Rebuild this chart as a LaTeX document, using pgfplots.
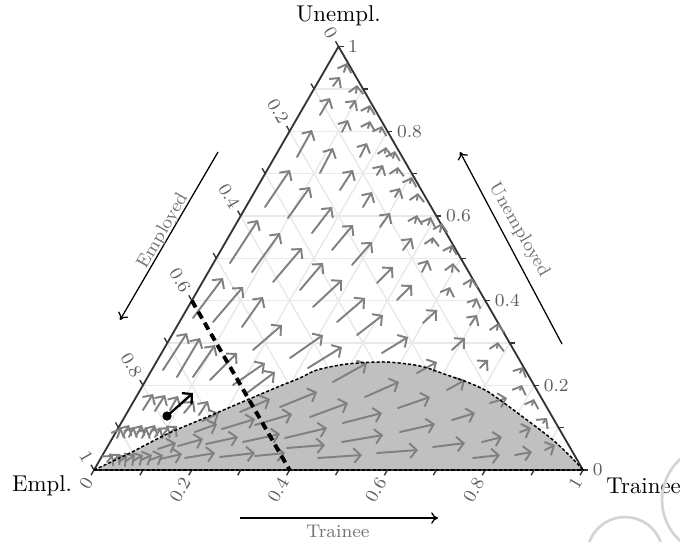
\documentclass[border=0pt]{standalone}
\usepackage{pgfplots}
\pgfplotsset{compat=1.18}
\usetikzlibrary{arrows.meta}

\definecolor{fieldgray}{RGB}{128,128,128}
\definecolor{gridgray}{RGB}{232,232,232}
\definecolor{edgegray}{RGB}{51,51,51}
\definecolor{ticktext}{RGB}{95,95,95}
\definecolor{shade}{RGB}{192,192,192}

% Vector field: tail (x,y) and displacement (u,v), in drawing units (y downwards)
\pgfplotstableread{
x y u v
344 72 3 -9
333 86 7 -9
356 93 1 -8
320 115 10 -17
350 108 6 -8
368 112 2 -7
342 132 6 -12
368 128 2 -7
380 132 2 -6
393 158 2 -7
297 157 15 -27
320 173 13 -25
340 190 13 -20
360 157 7 -14
377 175 6 -10
385 153 1 -6
397 173 1 -6
410 183 2 -6
265 207 25 -37
288 218 22 -31
363 207 9 -15
380 227 10 -14
395 197 5 -9
417 200 1 -7
415 223 2 -8
428 225 3 -8
440 232 2 -9
230 263 28 -43
252 272 28 -39
273 282 29 -34
312 233 20 -26
332 250 21 -25
352 265 20 -23
403 250 9 -12
432 243 1 -6
450 252 2 -7
377 283 16 -16
422 272 6 -12
452 272 1 -9
397 300 15 -15
447 295 3 -8
470 287 2 -9
423 323 14 -13
473 307 4 -9
497 330 1 -7
193 318 30 -40
213 322 30 -35
242 327 21 -30
300 290 23 -27
313 307 29 -27
337 322 28 -24
253 350 29 -25
357 335 26 -20
470 325 7 -10
497 348 1 -6
382 353 26 -16
452 350 13 -12
480 368 8 -8
520 373 3 -6
520 390 2 -5
532 405 2 -6
543 423 4 -5
163 370 24 -37
177 377 23 -39
193 377 22 -32
210 380 27 -27
233 385 32 -22
247 393 28 -21
290 358 33 -23
308 368 34 -21
333 382 34 -19
417 373 20 -11
447 390 18 -10
143 410 10 -16
155 411 10 -16
170 410 8 -14
184 413 10 -12
199 415 9 -14
202 421 17 -8
117 438 4 -10
123 436 6 -11
129 437 5 -10
136 436 6 -11
142 438 5 -10
149 436 6 -11
155 437 6 -9
162 436 7 -9
169 434 8 -8
365 397 34 -15
398 408 32 -11
452 420 23 -7
280 407 37 -15
310 417 38 -14
343 423 39 -10
400 432 35 -8
285 438 42 -10
342 442 41 -7
433 447 32 -4
287 448 38 -3
318 458 44 -3
377 453 41 -3
490 403 17 -5
520 432 11 -4
482 442 20 -5
473 458 27 -3
515 455 17 -3
545 450 10 -5
107 462 6 -7
113 461 7 -7
119 462 8 -6
126 461 9 -6
133 461 10 -6
141 460 11 -5
150 460 13 -5
160 459 22 -5
185 458 30 -5
220 457 35 -4
255 456 30 -3
158 449 18 -6
178 446 25 -7
206 444 32 -7
243 442 37 -8
195 432 22 -8
222 429 33 -10
255 425 37 -11
240 412 30 -13
}\fieldtable

\begin{document}
\begin{tikzpicture}
\begin{axis}[
  name=ax,
  x=0.4377pt, y=0.4377pt,
  xmin=0, xmax=680, ymin=0, ymax=541,
  y dir=reverse,
  hide axis,
  clip=false,
  scale only axis,
]
% ternary grid, every 0.1 in each component
\pgfplotsinvokeforeach{1,...,9}{
  \draw[gridgray, line width=0.6pt] ({94+24.45*#1},{470-42.35*#1}) -- ({583-24.45*#1},{470-42.35*#1});
  \draw[gridgray, line width=0.6pt] ({94+48.9*#1},470) -- ({338.5+24.45*#1},{46.5+42.35*#1});
  \draw[gridgray, line width=0.6pt] ({338.5-24.45*#1},{46.5+42.35*#1}) -- ({583-48.9*#1},470);
}

% shaded region below the boundary curve
\addplot[fill=shade, draw=none, smooth] coordinates {
  (94,470) (130,453) (167,434) (207,417) (247,400) (280,386) (300,378)
  (317,370) (347,364) (385,362) (420,366) (447,375) (467,382) (485,390)
  (500,400) (527,420) (553,440) (573,459) (583,470)
};

% triangle
\addplot[edgegray, line width=0.8pt, line join=round] coordinates {(94,470) (583,470) (338.5,46.5) (94,470)};

% ticks
\pgfplotsinvokeforeach{0,...,10}{
  \draw[edgegray, line width=0.6pt] ({583-24.45*#1},{470-42.35*#1}) -- ({588-24.45*#1},{470-42.35*#1});
  \draw[edgegray, line width=0.6pt] ({94+48.9*#1},470) -- ({91+48.9*#1},475.2);
  \draw[edgegray, line width=0.6pt] ({338.5-24.45*#1},{46.5+42.35*#1}) -- ({335.5-24.45*#1},{41.3+42.35*#1});
}

% tick labels
\begin{scope}[every node/.style={font=\footnotesize, text=ticktext, inner sep=1pt}]
  \node[anchor=west] at (590,470) {0};
  \node[anchor=west] at (541.1,385.3) {0.2};
  \node[anchor=west] at (492.2,300.6) {0.4};
  \node[anchor=west] at (443.3,215.9) {0.6};
  \node[anchor=west] at (394.4,131.2) {0.8};
  \node[anchor=west] at (345.5,46.5) {1};
  \node[anchor=east, rotate=60] at (90,477) {0};
  \node[anchor=east, rotate=60] at (187.8,477) {0.2};
  \node[anchor=east, rotate=60] at (285.6,477) {0.4};
  \node[anchor=east, rotate=60] at (383.4,477) {0.6};
  \node[anchor=east, rotate=60] at (481.2,477) {0.8};
  \node[anchor=east, rotate=60] at (579,477) {1};
  \node[anchor=east, rotate=-60] at (334.5,39.5) {0};
  \node[anchor=east, rotate=-60] at (285.6,124.2) {0.2};
  \node[anchor=east, rotate=-60] at (236.7,208.9) {0.4};
  \node[anchor=east, rotate=-60] at (187.8,293.6) {0.6};
  \node[anchor=east, rotate=-60] at (138.9,378.3) {0.8};
  \node[anchor=east, rotate=-60] at (90,463) {1};
\end{scope}

% vector field
\addplot[fieldgray, line width=0.85pt, line cap=round,
  -{Straight Barb[length=3pt,width=6.4pt]},
  quiver={u=\thisrow{u}, v=\thisrow{v}}] table[x=x, y=y] {\fieldtable};

% boundary of the shaded region
\addplot[black, line width=0.65pt, dash pattern=on 1.4pt off 0.9pt, smooth] coordinates {
  (94,470) (130,453) (167,434) (207,417) (247,400) (280,386) (300,378)
  (317,370) (347,364) (385,362) (420,366) (447,375) (467,382) (485,390)
  (500,400) (527,420) (553,440) (573,459) (583,470)
};
\addplot[black, line width=0.65pt, dash pattern=on 1.4pt off 0.9pt] coordinates {(94,470) (583,470)};

% line of constant Empl. = 0.6
\addplot[black, line width=1.7pt, dash pattern=on 3.4pt off 2.2pt] coordinates {(191.8,300.6) (289.6,470)};

% sample trajectory start
\addplot[black, line width=1pt, -{Straight Barb[length=3pt,width=6.4pt]},
  quiver={u=26, v=-23}] coordinates {(167,416)};
\addplot[black, only marks, mark=*, mark size=1.8pt] coordinates {(167,416)};

% vertex labels
\node at (338.5,16) {Unempl.};
\node at (42,486) {Empl.};
\node[anchor=west, inner sep=0pt] at (606,486) {Trainee};

% axis directions
\draw[black, line width=0.55pt, -{To[length=3pt,width=5pt]}] (218,152) -- (120,320);
\node[rotate=60, font=\footnotesize, text=black!55] at (163,231) {Employed};
\draw[black, line width=0.55pt, -{To[length=3pt,width=5pt]}] (562,344) -- (460,152);
\node[rotate=-60, font=\footnotesize, text=black!55] at (519,230) {Unemployed};
\draw[black, line width=0.55pt, -{To[length=3pt,width=5pt]}] (240,518) -- (438,518);
\node[font=\footnotesize, text=black!55] at (338,531) {Trainee};

% faint marks in the lower right corner
\draw[black!17, line width=1.2pt] (717,500) circle[radius=24.07pt];
\draw[black!17, line width=1.2pt] (625,555) circle[radius=16.6pt];
\end{axis}
\pgfresetboundingbox
\useasboundingbox (ax.south west) rectangle (ax.north east);
\end{tikzpicture}
\end{document}
